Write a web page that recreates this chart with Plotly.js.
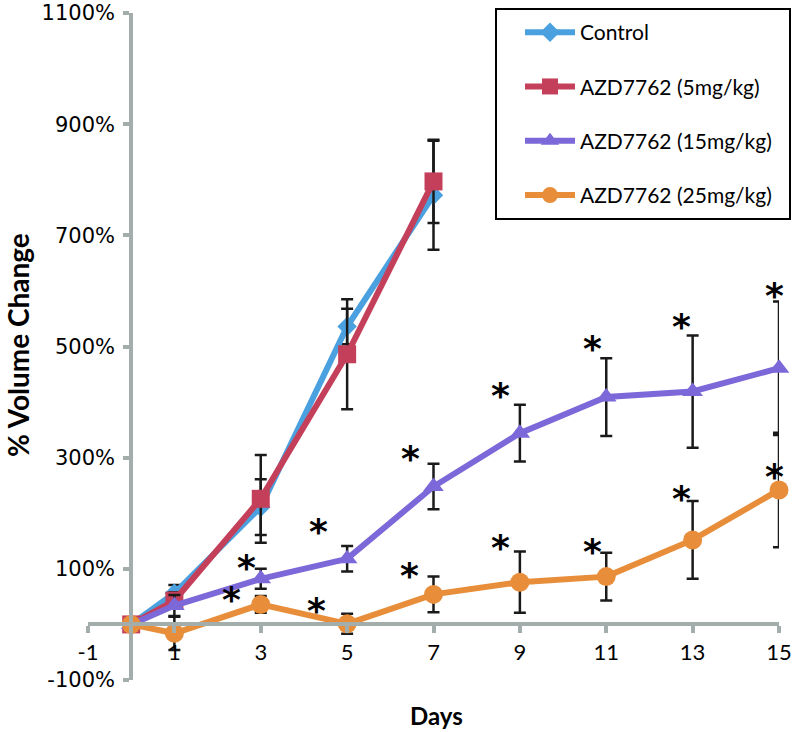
<!DOCTYPE html>
<html>
<head>
<meta charset="utf-8">
<script src="https://cdn.plot.ly/plotly-3.0.1.min.js"></script>
<style>html,body{margin:0;padding:0;background:#fff;}#chart{width:792px;height:732px;}</style>
</head>
<body>
<div id="chart"></div>
<script>
// ---- data ----
const daysShort = [0, 1, 3, 5, 7];
const daysLong = [0, 1, 3, 5, 7, 9, 11, 13, 15];

const controlVals = [0, 56, 211, 536, 772];
const controlErr = [null, 15, 50, 32, 98];

const azd5Vals = [0, 43, 226, 486, 797];
const azd5Err = [null, 15, 79, 99, 75];

const azd15Vals = [0, 34, 82, 118, 248, 344, 409, 419, 461];
const azd15Err = [null, 19, 18, 23, 41, 51, 70, 101, 120];

const azd25Vals = [0, -16, 36, 1, 54, 76, 86, 152, 242];
const azd25Err = [null, 30, 15, 18, 32, 55, 43, 70, 103];

const seriesNames = ["Control", "AZD7762 (5mg/kg)", "AZD7762 (15mg/kg)", "AZD7762 (25mg/kg)"];

// significance asterisks (day position, % value)
const starDays = [2.32, 2.68, 4.33, 4.29, 6.47, 6.44, 8.56, 8.56, 10.67, 10.69, 12.75, 12.75, 14.89, 14.89];
const starVals = [62, 120, 186, 43, 317, 106, 429, 156, 514, 149, 554, 244, 609, 285];

const xTickVals = [-1, 1, 3, 5, 7, 9, 11, 13, 15];
const xTickText = ["-1", "1", "3", "5", "7", "9", "11", "13", "15"];
const yTickVals = [-100, 100, 300, 500, 700, 900, 1100];
const yTickText = ["-100%", "100%", "300%", "500%", "700%", "900%", "1100%"];

// ---- styling ----
const colors = ["#4BA0DF", "#C4405A", "#7C68D8", "#E88E3A"];
const symbols = ["diamond", "square", "triangle-up", "circle"];
const sizes = [15, 18, 18, 19];
const axisGrey = "#A3ADAB";
const errStyle = (arr) => ({type: "data", array: arr, visible: true, color: "#1a1a1a", thickness: 2.5, width: 6});

const ML = 88, MR = 13, MT = 13, MB = 52;
const PW = 792 - ML - MR, PH = 732 - MT - MB;
const px = (x) => (x - ML) / PW;          // page pixel -> paper x
const py = (y) => (732 - MB - y) / PH;    // page pixel -> paper y

const xs = [daysShort, daysShort, daysLong, daysLong];
const ys = [controlVals, azd5Vals, azd15Vals, azd25Vals];
const es = [controlErr, azd5Err, azd15Err, azd25Err];

const traces = seriesNames.map((name, i) => ({
  type: "scatter",
  mode: "lines+markers",
  name: name,
  legendgroup: "g" + i,
  x: xs[i],
  y: ys[i],
  error_y: errStyle(es[i]),
  line: {color: colors[i], width: 6},
  marker: {color: colors[i], symbol: symbols[i], size: sizes[i]},
  cliponaxis: false
}));

const annotations = starDays.map((d, i) => ({
  x: d, y: starVals[i], xref: "x", yref: "y",
  text: "*", showarrow: false,
  font: {family: "DejaVu Sans", size: 36, color: "#000", weight: "bold"},
  yshift: -10
}));

annotations.push({
  xref: "paper", yref: "paper", x: px(18), y: py(345),
  xanchor: "center", yanchor: "middle",
  text: "<b>% Volume Change</b>", textangle: -90, showarrow: false,
  font: {family: "Lato", size: 28, color: "#000"}
});
annotations.push({
  xref: "paper", yref: "paper", x: px(436), y: py(715),
  xanchor: "center", yanchor: "middle",
  text: "<b>Days</b>", showarrow: false,
  font: {family: "Lato", size: 24, color: "#000"}
});

const layout = {
  width: 792, height: 732,
  margin: {l: ML, r: MR, t: MT, b: MB},
  paper_bgcolor: "#fff", plot_bgcolor: "#fff",
  showlegend: true,
  legend: {
    x: px(520), y: py(12), xanchor: "left", yanchor: "top",
    bgcolor: "rgba(0,0,0,0)", borderwidth: 0,
    font: {family: "Lato", size: 21, color: "#000"},
    tracegroupgap: 24, traceorder: "grouped", itemwidth: 50
  },
  xaxis: {
    range: [-1, 15], anchor: "free", position: 100 / 1200,
    showgrid: false, zeroline: false,
    showline: true, linecolor: axisGrey, linewidth: 4,
    ticks: "outside", ticklen: 7, tickwidth: 4, tickcolor: axisGrey,
    tickmode: "array", tickvals: xTickVals, ticktext: xTickText,
    ticklabeloverflow: "allow",
    tickfont: {family: "Lato", size: 22, color: "#000"}
  },
  yaxis: {
    range: [-100, 1100], anchor: "free", position: 1 / 16,
    showgrid: false, zeroline: false,
    showline: true, linecolor: axisGrey, linewidth: 4,
    ticks: "outside", ticklen: 6, tickwidth: 4, tickcolor: axisGrey,
    tickmode: "array", tickvals: yTickVals, ticktext: yTickText,
    ticklabeloverflow: "allow", ticklabelstandoff: 4,
    tickfont: {family: "DejaVu Sans", size: 21, color: "#000"}
  },
  shapes: [{
    type: "rect", xref: "paper", yref: "paper",
    x0: px(496), x1: px(790),
    y0: py(219), y1: py(9),
    line: {color: "#000", width: 2}, fillcolor: "rgba(0,0,0,0)"
  }],
  annotations: annotations
};

Plotly.newPlot("chart", traces, layout, {displayModeBar: false, staticPlot: true});
</script>
</body>
</html>
